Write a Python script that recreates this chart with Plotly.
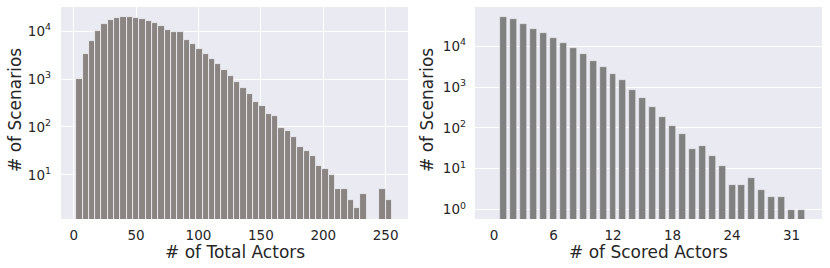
import plotly.graph_objects as go
import numpy as np

# ---- data: left histogram (# of Total Actors), 50 bins from 2 to 255 ----
total_min = 2
total_max = 255
total_counts = [980, 3400, 6300, 10000, 13800, 17000, 18700, 19900, 19300, 18700,
                17800, 16200, 14700, 12900, 10800, 9500, 9500, 6600, 5400, 4200,
                3250, 2600, 2050, 1540, 1140, 870, 640, 480, 330, 275,
                183, 166, 95, 84, 61, 38, 31, 25, 15, 13,
                10, 5, 5, 3, 2, 4, 0, 0, 5, 3]

# ---- data: right bar chart (# of Scored Actors) ----
scored_actors = list(range(1, 32))
scored_counts = [53200, 45800, 35900, 27000, 21600, 16000, 12000, 8900, 6600, 4400,
                 3060, 2100, 1450, 870, 540, 330, 190, 112, 69, 31,
                 37, 20, 12, 4, 4, 6, 3, 2, 2, 1, 1]

left_ticks = [0, 50, 100, 150, 200, 250]
right_tickvals = [0, 6, 12, 18, 24, 30]
right_ticktext = ["0", "6", "12", "18", "24", "31"]
left_yticks = [10, 100, 1000, 10000]
right_yticks = [1, 10, 100, 1000, 10000]

n_bins = len(total_counts)
bin_w = (total_max - total_min) / n_bins
bin_centers = [total_min + bin_w * (i + 0.5) for i in range(n_bins)]
lx = [c for c, v in zip(bin_centers, total_counts) if v > 0]
ly = [v for v in total_counts if v > 0]

def sup_labels(vals):
    return ["10<sup>%d</sup>" % int(round(np.log10(v))) for v in vals]

FONT = "DejaVu Sans"
TXT = "#262626"
W, H = 830, 268

fig = go.Figure()
fig.add_trace(go.Bar(x=lx, y=ly, width=bin_w, xaxis="x", yaxis="y",
                     marker=dict(color="#8a8482", line=dict(color="#f4f4f6", width=0.8)),
                     showlegend=False))
fig.add_trace(go.Bar(x=scored_actors, y=scored_counts, width=0.7, xaxis="x2", yaxis="y2",
                     marker=dict(color="#808080", line=dict(color="#ececf0", width=0.6)),
                     showlegend=False))

common_axis = dict(showline=False, zeroline=False, gridcolor="white", gridwidth=1,
                   tickfont=dict(family=FONT, size=13.5, color=TXT), ticks="", automargin=False)

fig.update_layout(
    width=W, height=H,
    margin=dict(l=0, r=0, t=0, b=0),
    paper_bgcolor="white",
    plot_bgcolor="#eaeaf2",
    font=dict(family=FONT, color=TXT),
    bargap=0,
    xaxis=dict(domain=[61/W, 408/W], range=[-10.2, 267.9], tickvals=left_ticks,
               showgrid=True, ticklabelstandoff=6, anchor="y", **common_axis),
    yaxis=dict(domain=[49/H, 261/H], type="log", range=[0.078, 4.503],
               tickvals=left_yticks, ticktext=sup_labels(left_yticks),
               showgrid=True, ticklabelstandoff=9, anchor="x", **common_axis),
    xaxis2=dict(domain=[475/W, 822/W], range=[-1.91, 33.07], tickvals=right_tickvals,
                ticktext=right_ticktext, showgrid=False, ticklabelstandoff=6,
                anchor="y2", **common_axis),
    yaxis2=dict(domain=[49/H, 261/H], type="log", range=[-0.23, 4.96],
                tickvals=right_yticks, ticktext=sup_labels(right_yticks),
                showgrid=True, ticklabelstandoff=8, anchor="x2", **common_axis),
)

title_font = dict(family=FONT, size=17, color=TXT)
titles = [
    ("# of Total Actors", 234.5, 252, 0),
    ("# of Scored Actors", 648.5, 252, 0),
    ("# of Scenarios", 15, 110, -90),
    ("# of Scenarios", 427, 110, -90),
]
for text, px, py, ang in titles:
    fig.add_annotation(text=text, x=px / W, y=1 - py / H, xref="paper", yref="paper",
                       showarrow=False, textangle=ang, font=title_font,
                       xanchor="center", yanchor="middle")

fig.write_html("out.html", config={"displayModeBar": False},
               post_script="document.body.style.margin='0';document.body.style.overflow='hidden';")
